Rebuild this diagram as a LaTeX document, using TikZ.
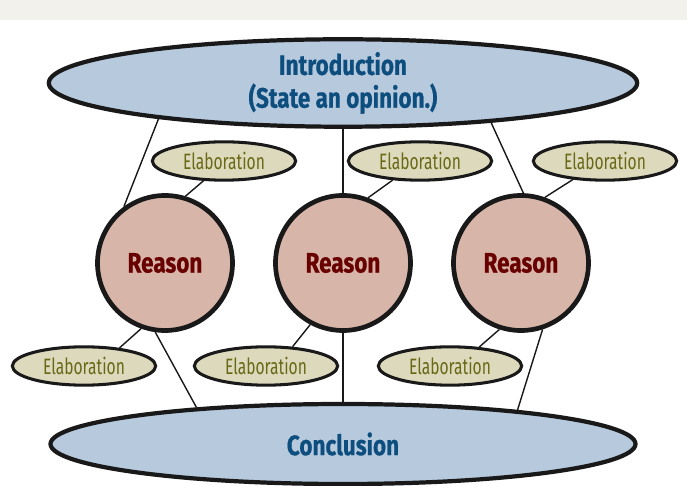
\documentclass[tikz,border=0pt]{standalone}
\usepackage{fontspec}
\usepackage{tikz}
\usetikzlibrary{shapes, arrows, calc, arrows.meta, positioning}
\usepackage{xcolor}
\newfontfamily\boldcond[FakeStretch=0.8, FakeBold=0.6]{Fira Sans}
\newfontfamily\thincond[FakeStretch=0.7]{Fira Sans}
\definecolor{introfill}{HTML}{B6C9DD}
\definecolor{introtext}{HTML}{0D4E7E}
\definecolor{reasonfill}{HTML}{D8B5A9}
\definecolor{reasontext}{HTML}{680000}
\definecolor{elabfill}{HTML}{DCD9BD}
\definecolor{elabtext}{HTML}{6A6814}
\definecolor{topband}{HTML}{F2F1EB}

\begin{document}
\begin{tikzpicture}[x=0.03cm, y=-0.03cm,
            big node/.style={ellipse, draw=black!90, line width=3.6pt, fill=introfill,
                text=introtext, font=\boldcond\bfseries\fontsize{24}{28}\selectfont,
                align=center, inner sep=0pt},
            reason node/.style={circle, draw=black!90, line width=4pt, fill=reasonfill,
                text=reasontext, font=\boldcond\bfseries\fontsize{24}{28}\selectfont,
                minimum size=4.05cm, inner sep=0pt},
            elab node/.style={ellipse, draw=black!90, line width=2.6pt, fill=elabfill,
                text=elabtext, font=\thincond\fontsize{19}{21}\selectfont,
                minimum width=4.3cm, minimum height=1.15cm, inner sep=0pt},
            link/.style={draw=black!90, line width=1.2pt}]

            \useasboundingbox (0,0) rectangle (687,486);
            \fill[topband] (0,0) rectangle (687,20);

            % top and bottom
            \node[big node, minimum width=17.65cm, minimum height=2.55cm] (Intro) at (343,83)
                {Introduction\\(State an opinion.)};
            \node[big node, minimum width=17.55cm, minimum height=2.4cm] (Concl) at (343,444)
                {Conclusion};

            % reasons
            \node[reason node] (R1) at (165,263) {Reason};
            \node[reason node] (R2) at (343,263) {Reason};
            \node[reason node] (R3) at (521,263) {Reason};

            % elaborations
            \node[elab node] (e1) at (224,161) {Elaboration};
            \node[elab node] (e2) at (420,161) {Elaboration};
            \node[elab node] (e3) at (605,161) {Elaboration};
            \node[elab node] (e4) at (84,366) {Elaboration};
            \node[elab node] (e5) at (266,366) {Elaboration};
            \node[elab node] (e6) at (450,366) {Elaboration};

            % connectors
            \path[link] (Intro.191.1) -- (R1.126.6);
            \path[link] (Intro.south) -- (R2.north);
            \path[link] (Intro.345.6) -- (R3.88.4);
            \path[link] (e1.224) -- (R1.73);
            \path[link] (e2.215) -- (R2.69);
            \path[link] (e3.210) -- (R3.70);
            \path[link] (R1.250) -- (e4.27);
            \path[link] (R2.242) -- (e5.36);
            \path[link] (R3.252) -- (e6.33);
            \path[link] (R1.262) -- (Concl.166.5);
            \path[link] (R2.south) -- (Concl.north);
            \path[link] (R3.288) -- (Concl.11.6);
        \end{tikzpicture}
\end{document}
